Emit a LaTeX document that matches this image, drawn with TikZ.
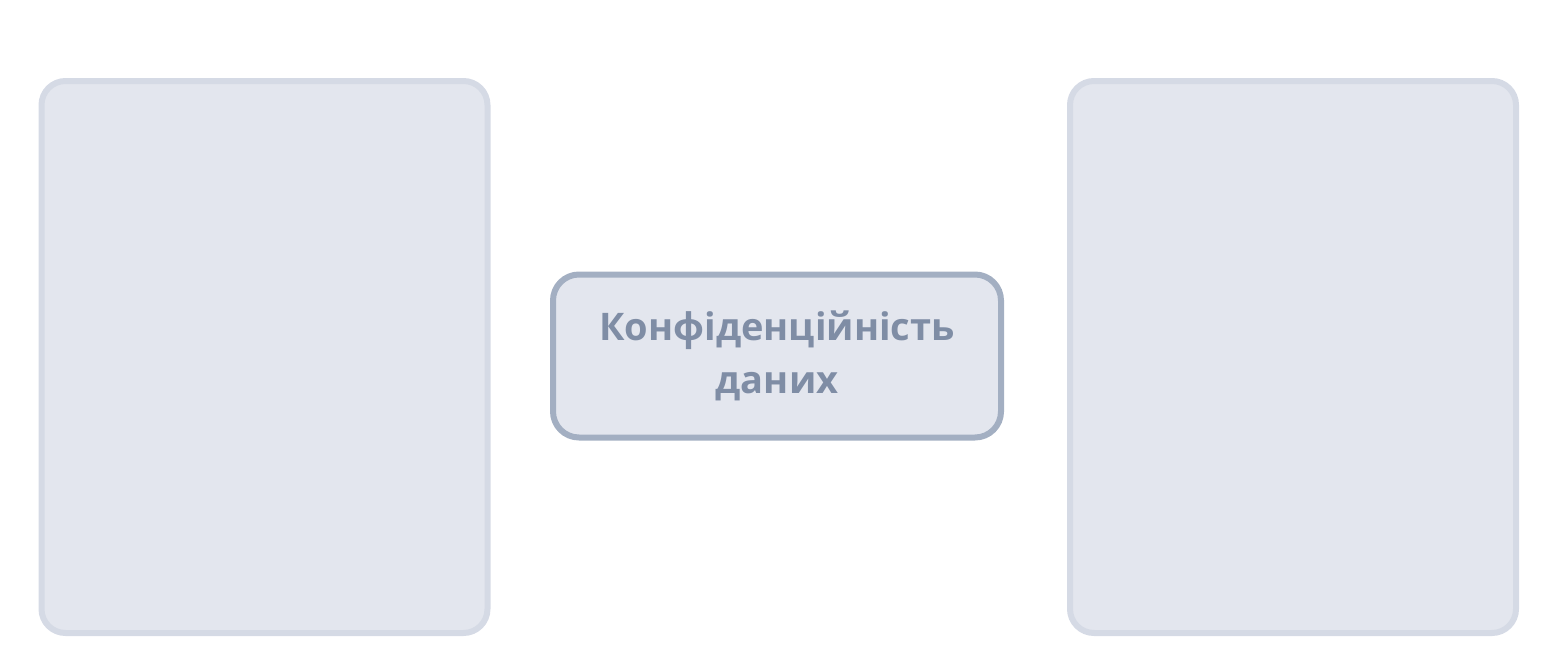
\documentclass[tikz,border=0pt]{standalone}
\usepackage{fontspec}
\newfontfamily\labelfont{Open Sans}
\definecolor{panelfill}{HTML}{E3E6EE}
\definecolor{paneledge}{HTML}{D5DAE5}
\definecolor{keyedge}{HTML}{A3AFC2}
\definecolor{keytext}{HTML}{7F8DA5}
\tikzset{
  panel/.style={draw=paneledge, fill=panelfill, line width=6pt, rounded corners=24pt,
    minimum width=446pt, minimum height=552pt, inner sep=0pt},
  keybox/.style={draw=keyedge, fill=panelfill, line width=6pt, rounded corners=26pt,
    minimum width=448pt, minimum height=163pt, align=center, text=keytext,
    font=\labelfont\bfseries\fontsize{38}{53}\selectfont}
}
\begin{document}
\begin{tikzpicture}[x=1pt,y=-1pt]
                \useasboundingbox (0,0) rectangle (1553,672);
                \node[panel] (left) at (264.5,357) {}; % panel izquierdo
                \node[panel] (right) at (1293,357) {}; % panel derecho
                \node[keybox] (key) at (777,356) {Конфіденційність\\даних};
                \end{tikzpicture}
\end{document}
